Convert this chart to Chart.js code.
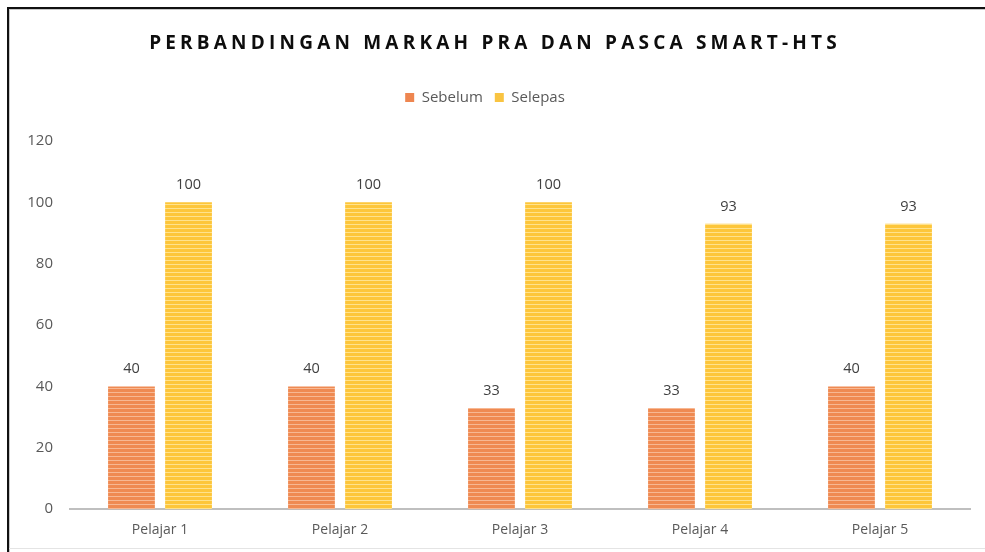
<!DOCTYPE html>
<html>
<head>
<meta charset="utf-8">
<script src="https://cdn.jsdelivr.net/npm/chart.js@4.4.1/dist/chart.umd.min.js"></script>
<style>
  body { margin: 0; background: #fff; overflow: hidden; }
  #wrap { position: relative; width: 985px; height: 552px; }
  #frame {
    position: absolute; left: 7px; top: 7px; width: 1000px; height: 600px;
    border-top: 2px solid #111; border-left: 2px solid #111;
    box-shadow: inset 1px 1px 0 #c8c8c8;
    pointer-events: none;
  }
  #foot { position: absolute; left: 9px; right: 0; top: 548px; height: 1px; background: #e4e4e4; }
</style>
</head>
<body>
<div id="wrap">
  <canvas id="chart" width="985" height="552"></canvas>
  <div id="frame"></div>
  <div id="foot"></div>
</div>
<script>
const titleText = 'PERBANDINGAN MARKAH PRA DAN PASCA SMART-HTS';
const students = ['Pelajar 1', 'Pelajar 2', 'Pelajar 3', 'Pelajar 4', 'Pelajar 5'];
const sebelum = [40, 40, 33, 33, 40];
const selepas = [100, 100, 100, 93, 93];
const yTicks = [0, 20, 40, 60, 80, 100, 120];

const FONT = "'Open Sans', 'Liberation Sans', sans-serif";

// striped fill like the original office chart
function stripes(base, light) {
  const c = document.createElement('canvas');
  c.width = 4; c.height = 4;
  const g = c.getContext('2d');
  g.fillStyle = base;
  g.fillRect(0, 0, 4, 4);
  g.fillStyle = light;
  g.fillRect(0, 0, 4, 1);
  return g.createPattern(c, 'repeat');
}

const orangeFill = stripes('#EF8A52', '#F7B893');
const yellowFill = stripes('#FDC63A', '#FFE28C');

const titlePlugin = {
  id: 'spacedTitle',
  afterDraw(chart) {
    const ctx = chart.ctx;
    ctx.save();
    ctx.font = 'bold 19px ' + FONT;
    ctx.letterSpacing = '4.2px';
    ctx.fillStyle = '#0d0d0d';
    ctx.textAlign = 'center';
    ctx.textBaseline = 'middle';
    ctx.fillText(titleText, 495, 44);
    ctx.restore();
  }
};

// extra room between legend and plot
const legendGap = {
  id: 'legendGap',
  beforeLayout(chart) {
    const lg = chart.legend;
    if (!lg || lg._gapPatched) return;
    const fit = lg.fit;
    lg.fit = function () {
      fit.call(this);
      this.height += 26;
    };
    lg._gapPatched = true;
  }
};

const valueLabels = {
  id: 'valueLabels',
  afterDatasetsDraw(chart) {
    const ctx = chart.ctx;
    ctx.save();
    ctx.font = '14.5px ' + FONT;
    ctx.fillStyle = '#404040';
    ctx.textAlign = 'center';
    ctx.textBaseline = 'bottom';
    chart.data.datasets.forEach((ds, i) => {
      chart.getDatasetMeta(i).data.forEach((bar, j) => {
        ctx.fillText(String(ds.data[j]), bar.x, bar.y - 10);
      });
    });
    ctx.restore();
  }
};

new Chart(document.getElementById('chart'), {
  type: 'bar',
  data: {
    labels: students,
    datasets: [
      { label: 'Sebelum', data: sebelum, backgroundColor: orangeFill, swatch: '#EE8650' },
      { label: 'Selepas', data: selepas, backgroundColor: yellowFill, swatch: '#F9C441' }
    ]
  },
  options: {
    responsive: false,
    animation: false,
    layout: { padding: { top: 78, right: 15, bottom: 2, left: 0 } },
    datasets: { bar: { categoryPercentage: 0.634, barPercentage: 0.82 } },
    plugins: {
      title: { display: false },
      tooltip: { enabled: false },
      legend: {
        position: 'top',
        labels: {
          boxWidth: 9,
          boxHeight: 9,
          padding: 12,
          color: '#595959',
          font: { family: FONT, size: 15 },
          generateLabels(chart) {
            return chart.data.datasets.map((ds, i) => ({
              text: ds.label,
              fillStyle: ds.swatch,
              strokeStyle: ds.swatch,
              lineWidth: 0,
              fontColor: '#595959',
              datasetIndex: i
            }));
          }
        }
      }
    },
    scales: {
      x: {
        grid: { display: false, drawTicks: false },
        border: { display: true, color: '#BFBFBF', width: 2 },
        ticks: { color: '#595959', font: { family: FONT, size: 14 }, padding: 12 }
      },
      y: {
        min: 0,
        max: 120,
        afterBuildTicks(scale) { scale.ticks = yTicks.map(v => ({ value: v })); },
        afterFit(scale) { scale.width = 70; },
        grid: { display: false, drawTicks: false },
        border: { display: false },
        ticks: { color: '#595959', font: { family: FONT, size: 15 }, padding: 17 }
      }
    }
  },
  plugins: [titlePlugin, legendGap, valueLabels]
});
</script>
</body>
</html>
